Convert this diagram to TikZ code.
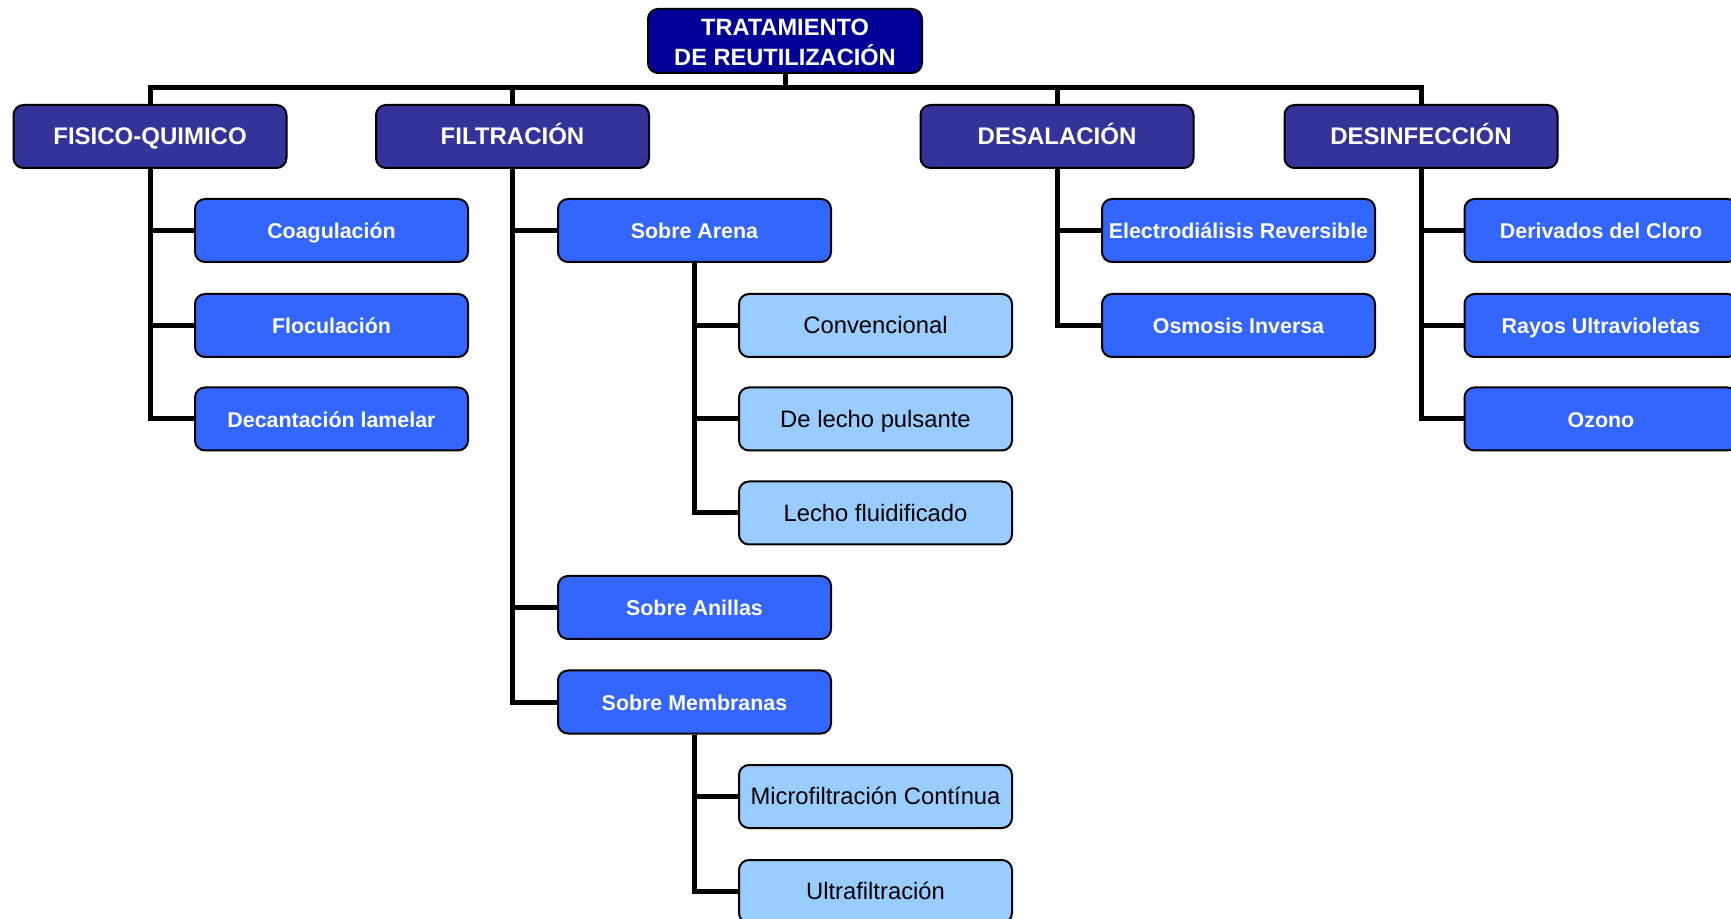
\documentclass[tikz,border=0pt]{standalone}
\usepackage{fontspec}
\setmainfont{Liberation Sans}
\definecolor{rootblue}{HTML}{000099}
\definecolor{catblue}{HTML}{333399}
\definecolor{midblue}{HTML}{3366FF}
\definecolor{lightblue}{HTML}{99CCFF}
\begin{document}
\begin{tikzpicture}[x=0.5pt,y=-0.5pt,
  box/.style={draw=black, line width=1pt, rounded corners=5pt,
    minimum width=136.5pt, minimum height=31.5pt, inner sep=0pt, align=center},
  oneline/.style={text height=0.72em+1.2pt, text depth=0pt},
  root/.style={box, fill=rootblue, text=white,
    font=\bfseries\fontsize{11.8}{14.8}\selectfont, minimum height=32pt, minimum width=137pt},
  lvlone/.style={box, oneline, fill=catblue, text=white, font=\bfseries\fontsize{12}{14}\selectfont},
  lvltwo/.style={box, oneline, fill=midblue, text=white, font=\bfseries\fontsize{10.7}{12}\selectfont},
  lvlthree/.style={box, oneline, fill=lightblue, text=black, font=\fontsize{11.9}{13}\selectfont},
  conn/.style={line width=2.5pt, line join=miter}]
\useasboundingbox (0,0) rectangle (1731,919);
\clip (0,0) rectangle (1731,919);

\coordinate (bus) at (785,88);

% root and first level
\node[root] (top) at (785,41) {\rule{0pt}{9.8pt}TRATAMIENTO\\DE REUTILIZACIÓN};
\node[lvlone] (fis) at (150,136.5) {FISICO-QUIMICO};
\node[lvlone] (fil) at (512.5,136.5) {FILTRACIÓN};
\node[lvlone] (dsl) at (1057,136.5) {DESALACIÓN};
\node[lvlone] (dsf) at (1421,136.5) {DESINFECCIÓN};

% second level
\node[lvltwo] (coag) at (331.5,230.5) {Coagulación};
\node[lvltwo] (floc) at (331.5,325.5) {Floculación};
\node[lvltwo] (deca) at (331.5,419) {Decantación lamelar};

\node[lvltwo] (arena) at (694.5,230.5) {Sobre Arena};
\node[lvltwo] (anil) at (694.5,607.5) {Sobre Anillas};
\node[lvltwo] (memb) at (694.5,702) {Sobre Membranas};

\node[lvltwo] (elec) at (1238.5,230.5) {Electrodiálisis Reversible};
\node[lvltwo] (osmo) at (1238.5,325.5) {Osmosis Inversa};

\node[lvltwo] (clor) at (1601,230.5) {Derivados del Cloro};
\node[lvltwo] (rayo) at (1601,325.5) {Rayos Ultravioletas};
\node[lvltwo] (ozon) at (1601,419) {Ozono};

% third level
\node[lvlthree] (conv) at (875.5,325.5) {Convencional};
\node[lvlthree] (puls) at (875.5,419) {De lecho pulsante};
\node[lvlthree] (flui) at (875.5,513) {Lecho fluidificado};
\node[lvlthree] (micr) at (875.5,796.5) {Microfiltración Contínua};
\node[lvlthree] (ultr) at (875.5,891.5) {Ultrafiltración};

% tree lines
\draw[conn] (top.south) -- (bus);
\draw[conn] (fis.north) -- (fis.north |- bus) -- (dsf.north |- bus) -- (dsf.north);
\draw[conn] (fil.north) -- (fil.north |- bus);
\draw[conn] (dsl.north) -- (dsl.north |- bus);

\foreach \c in {coag,floc,deca} \draw[conn] (fis.south) |- (\c.west);
\foreach \c in {arena,anil,memb} \draw[conn] (fil.south) |- (\c.west);
\foreach \c in {elec,osmo} \draw[conn] (dsl.south) |- (\c.west);
\foreach \c in {clor,rayo,ozon} \draw[conn] (dsf.south) |- (\c.west);
\foreach \c in {conv,puls,flui} \draw[conn] (arena.south) |- (\c.west);
\foreach \c in {micr,ultr} \draw[conn] (memb.south) |- (\c.west);
\end{tikzpicture}
\end{document}
